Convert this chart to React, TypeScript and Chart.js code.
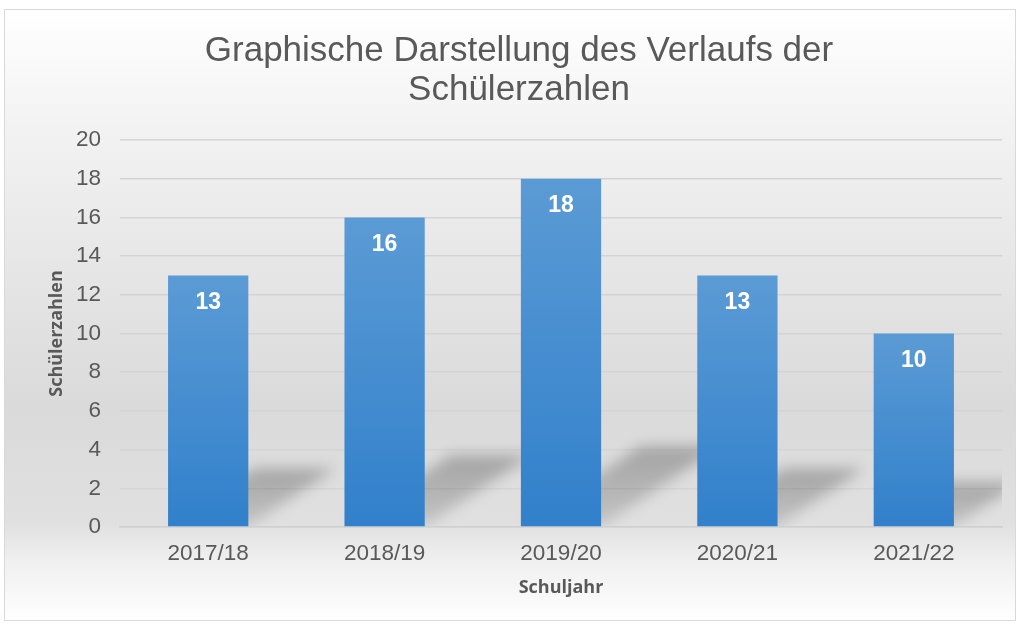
import React, { useEffect, useRef } from "react";
import { Chart, registerables } from "chart.js";

Chart.register(...registerables);

const categories = ["2017/18", "2018/19", "2019/20", "2020/21", "2021/22"];
const studentCounts = [13, 16, 18, 13, 10];
const titleLines = ["Graphische Darstellung des Verlaufs der", "Schülerzahlen"];
const xAxisTitle = "Schuljahr";
const yAxisTitle = "Schülerzahlen";

const W = 1018;
const H = 626;

const backgroundPlugin = {
  id: "bgPlugin",
  beforeDraw(chart: any) {
    const ctx = chart.ctx;
    ctx.save();
    ctx.fillStyle = "#ffffff";
    ctx.fillRect(0, 0, W, H);
    const fx = 4.5, fy = 9.5, fw = 1011, fh = 611;
    const g = ctx.createLinearGradient(0, fy, 0, fy + fh);
    g.addColorStop(0, "#ffffff");
    g.addColorStop(0.2, "#f2f2f2");
    g.addColorStop(0.65, "#dadada");
    g.addColorStop(0.84, "#e0e0e0");
    g.addColorStop(0.9, "#efefef");
    g.addColorStop(1, "#ffffff");
    ctx.fillStyle = g;
    ctx.fillRect(fx, fy, fw, fh);
    ctx.strokeStyle = "#d9d9d9";
    ctx.lineWidth = 1;
    ctx.strokeRect(fx, fy, fw, fh);
    // title
    ctx.fillStyle = "#595959";
    ctx.font = "35px 'Liberation Sans', Arial, sans-serif";
    ctx.textAlign = "center";
    ctx.textBaseline = "alphabetic";
    ctx.fillText(titleLines[0], 519, 61);
    ctx.fillText(titleLines[1], 519, 100);
    ctx.restore();
  },
  beforeDatasetsDraw(chart: any) {
    const ctx = chart.ctx;
    const area = chart.chartArea;
    const meta = chart.getDatasetMeta(0);
    ctx.save();
    ctx.beginPath();
    ctx.rect(area.left, area.top, area.right - area.left, area.bottom - area.top - 1);
    ctx.clip();
    ctx.filter = "blur(7px)";
    meta.data.forEach((bar: any) => {
      const { x, y, base, width } = bar.getProps(["x", "y", "base", "width"], true);
      const h = base - y;
      const sh = h * 0.23;
      const shift = sh * 1.5;
      const left = x - width / 2;
      const right = x + width / 2;
      const g = ctx.createLinearGradient(0, base - sh, 0, base);
      g.addColorStop(0, "rgba(0,0,0,0.26)");
      g.addColorStop(1, "rgba(0,0,0,0.12)");
      ctx.fillStyle = g;
      ctx.beginPath();
      ctx.moveTo(left, base);
      ctx.lineTo(right, base);
      ctx.lineTo(right + shift, base - sh);
      ctx.lineTo(left + shift, base - sh);
      ctx.closePath();
      ctx.fill();
    });
    ctx.restore();
  },
  afterDatasetsDraw(chart: any) {
    const ctx = chart.ctx;
    const meta = chart.getDatasetMeta(0);
    ctx.save();
    ctx.fillStyle = "#ffffff";
    ctx.font = "bold 23px 'Liberation Sans', Arial, sans-serif";
    ctx.textAlign = "center";
    ctx.textBaseline = "middle";
    meta.data.forEach((bar: any, i: number) => {
      const { x, y } = bar.getProps(["x", "y"], true);
      ctx.fillText(String(studentCounts[i]), x, y + 27);
    });
    ctx.restore();
  },
};

export default function App() {
  const ref = useRef<HTMLCanvasElement | null>(null);
  useEffect(() => {
    if (!ref.current) return;
    const chart = new Chart(ref.current, {
      type: "bar",
      data: {
        labels: categories,
        datasets: [
          {
            data: studentCounts,
            barPercentage: 0.455,
            categoryPercentage: 1,
            backgroundColor: (c: any) => {
              const chart = c.chart;
              const ys = chart.scales && chart.scales.y;
              if (!ys || c.type !== "data") return "#4a8fd3";
              const top = ys.getPixelForValue(c.raw);
              const base = ys.getPixelForValue(0);
              if (!isFinite(top) || !isFinite(base) || top === base) return "#4a8fd3";
              const g = chart.ctx.createLinearGradient(0, top, 0, base);
              g.addColorStop(0, "#5b9bd5");
              g.addColorStop(1, "#3180cb");
              return g;
            },
            borderWidth: 0,
          },
        ],
      },
      options: {
        responsive: false,
        animation: false,
        devicePixelRatio: 1,
        layout: { padding: { top: 140, right: 16, left: 0, bottom: 0 } },
        plugins: {
          legend: { display: false },
          title: { display: false },
          tooltip: { enabled: false },
        },
        scales: {
          x: {
            afterFit: (s: any) => {
              s.height = 99;
            },
            grid: { display: false, drawTicks: false },
            border: { display: true, color: "#d0d0d0", width: 1.5 },
            ticks: {
              color: "#595959",
              padding: 13,
              font: { family: "'Liberation Sans', Arial, sans-serif", size: 22.5 },
            },
            title: {
              display: true,
              text: xAxisTitle,
              color: "#595959",
              font: { family: "'Open Sans', sans-serif", size: 18, weight: "bold" },
              padding: { top: 0, bottom: 27 },
            },
          },
          y: {
            min: 0,
            max: 20,
            afterFit: (s: any) => {
              s.width = 120;
            },
            grid: { color: "#d4d4d4", lineWidth: 1.5, drawTicks: false },
            border: { display: false },
            ticks: {
              stepSize: 2,
              color: "#595959",
              padding: 19,
              font: { family: "'Liberation Sans', Arial, sans-serif", size: 22.5 },
            },
            title: {
              display: true,
              text: yAxisTitle,
              color: "#595959",
              font: { family: "'Open Sans', sans-serif", size: 18, weight: "bold" },
              padding: { top: 46, bottom: 0 },
            },
          },
        },
      },
      plugins: [backgroundPlugin],
    } as any);
    return () => chart.destroy();
  }, []);
  return (
    <div style={{ position: "absolute", left: 0, top: 0, width: W, height: H }}>
      <canvas ref={ref} width={W} height={H} style={{ display: "block" }} />
    </div>
  );
}
